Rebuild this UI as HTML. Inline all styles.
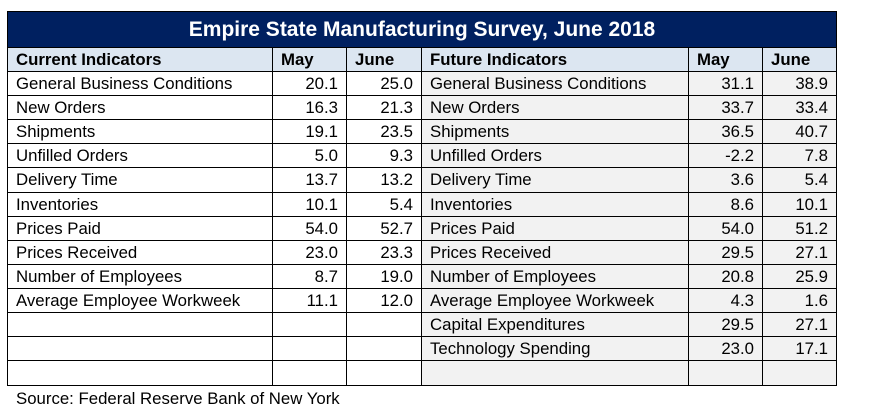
<!DOCTYPE html>
<html><head><meta charset="utf-8"><style>
body{margin:0;width:870px;height:411px;background:#fff;position:relative;font-family:"Liberation Sans",Arial,sans-serif;overflow:hidden}
.t{position:absolute;left:7px;top:11px;width:830px;border:1.5px solid #000;box-sizing:border-box}
.title{height:35px;background:#002060;color:#fff;font-weight:bold;font-size:21px;text-align:center;line-height:35px;border-bottom:1px solid #000}
.r{display:grid;grid-template-columns:265px 74px 75px 267px 74px 1fr;height:24.1px;border-bottom:1px solid #000;box-sizing:border-box}
.r:last-child{border-bottom:none}
.r div{border-right:1px solid #000;font-size:16.8px;line-height:24px;padding:0 8px;white-space:nowrap;overflow:hidden;color:#000}
.r div:last-child{border-right:none}
.r div:nth-child(2),.r div:nth-child(3),.r div:nth-child(5),.r div:nth-child(6){text-align:right;padding-right:8px}
.r div:nth-child(n+4){background:#f2f2f2}
.h div{background:#dce6f1!important;font-weight:bold;text-align:left!important;padding-left:8px}
.src{position:absolute;left:16px;top:389px;font-size:16.8px}
</style></head><body>
<div class="t">
<div class="title">Empire State Manufacturing Survey, June 2018</div>
<div class="r h"><div>Current Indicators</div><div>May</div><div>June</div><div>Future Indicators</div><div>May</div><div>June</div></div>
<div class="r"><div>General Business Conditions</div><div>20.1</div><div>25.0</div><div>General Business Conditions</div><div>31.1</div><div>38.9</div></div>
<div class="r"><div>New Orders</div><div>16.3</div><div>21.3</div><div>New Orders</div><div>33.7</div><div>33.4</div></div>
<div class="r"><div>Shipments</div><div>19.1</div><div>23.5</div><div>Shipments</div><div>36.5</div><div>40.7</div></div>
<div class="r"><div>Unfilled Orders</div><div>5.0</div><div>9.3</div><div>Unfilled Orders</div><div>-2.2</div><div>7.8</div></div>
<div class="r"><div>Delivery Time</div><div>13.7</div><div>13.2</div><div>Delivery Time</div><div>3.6</div><div>5.4</div></div>
<div class="r"><div>Inventories</div><div>10.1</div><div>5.4</div><div>Inventories</div><div>8.6</div><div>10.1</div></div>
<div class="r"><div>Prices Paid</div><div>54.0</div><div>52.7</div><div>Prices Paid</div><div>54.0</div><div>51.2</div></div>
<div class="r"><div>Prices Received</div><div>23.0</div><div>23.3</div><div>Prices Received</div><div>29.5</div><div>27.1</div></div>
<div class="r"><div>Number of Employees</div><div>8.7</div><div>19.0</div><div>Number of Employees</div><div>20.8</div><div>25.9</div></div>
<div class="r"><div>Average Employee Workweek</div><div>11.1</div><div>12.0</div><div>Average Employee Workweek</div><div>4.3</div><div>1.6</div></div>
<div class="r"><div></div><div></div><div></div><div>Capital Expenditures</div><div>29.5</div><div>27.1</div></div>
<div class="r"><div></div><div></div><div></div><div>Technology Spending</div><div>23.0</div><div>17.1</div></div>
<div class="r"><div></div><div></div><div></div><div></div><div></div><div></div></div>
</div>
<div class="src">Source: Federal Reserve Bank of New York</div>
</body></html>
